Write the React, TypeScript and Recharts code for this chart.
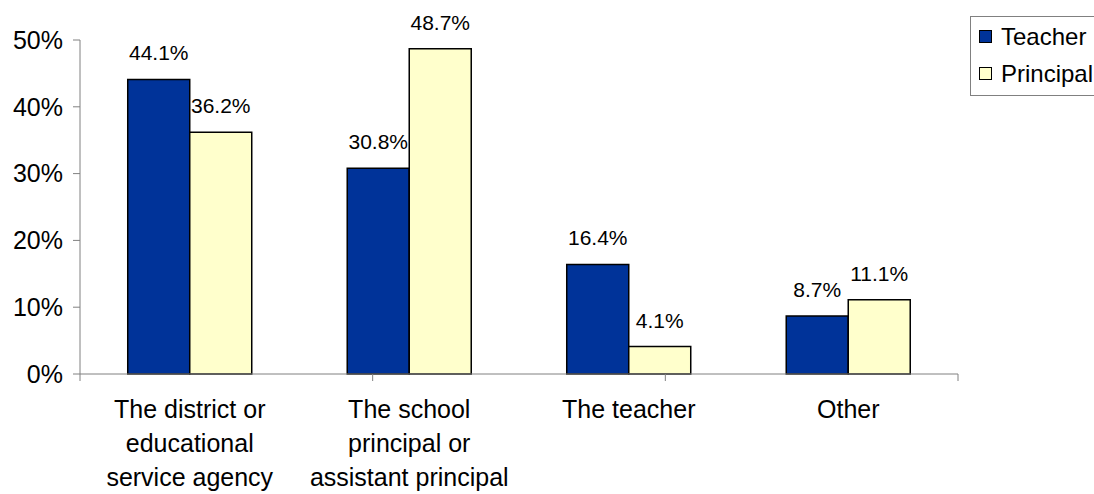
import React from 'react';
import { BarChart, Bar, XAxis, YAxis, Legend, LabelList } from 'recharts';

const categories = [
  'The district or educational service agency',
  'The school principal or assistant principal',
  'The teacher',
  'Other',
];
const categoryLines = [
  ['The district or', 'educational', 'service agency'],
  ['The school', 'principal or', 'assistant principal'],
  ['The teacher'],
  ['Other'],
];
const seriesNames = ['Teacher', 'Principal'];
const teacherValues = [44.1, 30.8, 16.4, 8.7];
const principalValues = [36.2, 48.7, 4.1, 11.1];
const yTicks = [0, 10, 20, 30, 40, 50];
const edgeTicks = [0, 1, 2, 3, 4];

const data = categories.map((name, i) => ({
  name,
  teacher: teacherValues[i],
  principal: principalValues[i],
}));

const FONT = '"Liberation Sans", Arial, sans-serif';
const AXIS_GRAY = '#808080';

const CategoryTick = (props: any) => {
  const { x, y, payload } = props;
  const lines = categoryLines[payload.index] || [payload.value];
  return (
    <g transform={`translate(${x},${y})`}>
      {lines.map((line, i) => (
        <text
          key={i}
          x={0}
          y={43 + i * 34}
          textAnchor="middle"
          fontSize={25}
          fontFamily={FONT}
          fill="#000"
        >
          {line}
        </text>
      ))}
    </g>
  );
};

const renderLegend = (props: any) => {
  const items = [...(props.payload || [])].sort(
    (a: any, b: any) => seriesNames.indexOf(a.value) - seriesNames.indexOf(b.value)
  );
  return (
    <div
      style={{
        border: `1px solid ${AXIS_GRAY}`,
        background: '#fff',
        width: 140,
        padding: '1px 0 3px 8px',
        fontFamily: FONT,
      }}
    >
      {items.map((p: any) => (
        <div key={p.value} style={{ display: 'flex', alignItems: 'center', height: 37 }}>
          <span
            style={{
              display: 'inline-block',
              width: 11,
              height: 11,
              background: p.color,
              border: '1px solid #000',
              marginRight: 9,
            }}
          />
          <span style={{ fontSize: 24, color: '#000', whiteSpace: 'nowrap' }}>{p.value}</span>
        </div>
      ))}
    </div>
  );
};

const pct = (v: any) => `${Number(v).toFixed(1)}%`;

export default function App() {
  return (
    <div style={{ position: 'absolute', left: 0, top: 0, width: 1094, height: 494, overflow: 'hidden', background: '#fff' }}>
      <BarChart
        width={1094}
        height={494}
        data={data}
        margin={{ top: 40, right: 136, left: 0, bottom: 0 }}
        barCategoryGap="21.75%"
        barGap={0}
      >
        <XAxis
          xAxisId="axisB"
          dataKey="name"
          axisLine={false}
          tickLine={false}
          tickSize={0}
          tickMargin={0}
          height={119}
          interval={0}
          tick={<CategoryTick />}
        />
        <XAxis
          xAxisId="axisA"
          type="number"
          domain={[0, 4]}
          ticks={edgeTicks}
          tickFormatter={() => ''}
          tickSize={7}
          height={1}
          stroke={AXIS_GRAY}
          allowDataOverflow
        />
        <YAxis
          width={80}
          domain={[0, 50]}
          ticks={yTicks}
          tickFormatter={(v: number) => `${v}%`}
          tickSize={7}
          tickMargin={10}
          stroke={AXIS_GRAY}
          tick={{ fill: '#000', fontSize: 25, fontFamily: FONT }}
        />
        <Legend
          layout="vertical"
          align="center"
          verticalAlign="middle"
          content={renderLegend}
          wrapperStyle={{ left: 970, top: 16, width: 150 }}
        />
        <Bar
          xAxisId="axisB"
          dataKey="teacher"
          name="Teacher"
          fill="#003399"
          stroke="#000"
          strokeWidth={1.5}
          isAnimationActive={false}
        >
          <LabelList
            dataKey="teacher"
            position="top"
            offset={19}
            formatter={pct}
            fill="#000"
            fontSize={21}
            fontFamily={FONT}
          />
        </Bar>
        <Bar
          xAxisId="axisB"
          dataKey="principal"
          name="Principal"
          fill="#FFFFCC"
          stroke="#000"
          strokeWidth={1.5}
          isAnimationActive={false}
        >
          <LabelList
            dataKey="principal"
            position="top"
            offset={19}
            formatter={pct}
            fill="#000"
            fontSize={21}
            fontFamily={FONT}
          />
        </Bar>
      </BarChart>
    </div>
  );
}
